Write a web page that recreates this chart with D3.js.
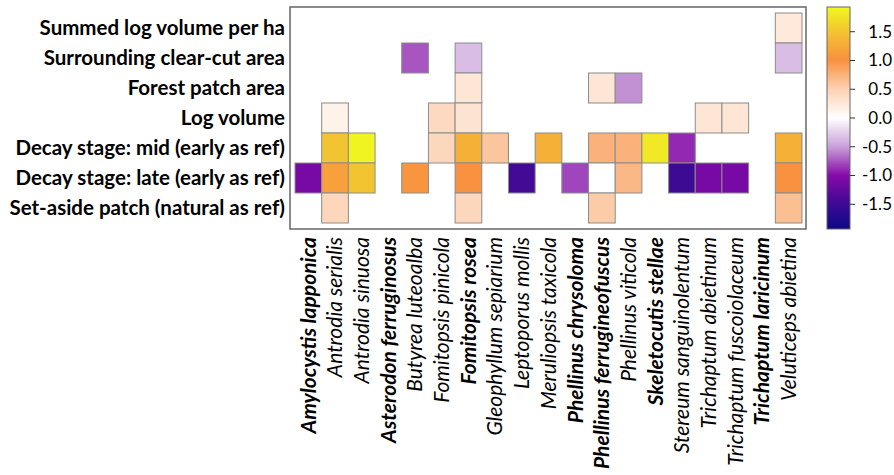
<!DOCTYPE html>
<meta charset="utf-8">
<html>
<head>
    <title>Heatmap</title>
    <style>
        body { margin: 0; background: white; }
        svg text { font-family: Lato, "Open Sans", sans-serif; fill: black; }
    </style>
    <script src="https://d3js.org/d3.v7.min.js"></script>
</head>
<body>
    <div id="chart"></div>
    <script>
        // species on the x axis (bold ones flagged separately)
        const species = ["Amylocystis lapponica", "Antrodia serialis", "Antrodia sinuosa",
            "Asterodon ferruginosus", "Butyrea luteoalba", "Fomitopsis pinicola", "Fomitopsis rosea",
            "Gleophyllum sepiarium", "Leptoporus mollis", "Meruliopsis taxicola", "Phellinus chrysoloma",
            "Phellinus ferrugineofuscus", "Phellinus viticola", "Skeletocutis stellae",
            "Stereum sanguinolentum", "Trichaptum abietinum", "Trichaptum fuscoiolaceum",
            "Trichaptum laricinum", "Veluticeps abietina"];
        const boldSpecies = ["Amylocystis lapponica", "Asterodon ferruginosus", "Fomitopsis rosea",
            "Phellinus chrysoloma", "Phellinus ferrugineofuscus", "Skeletocutis stellae", "Trichaptum laricinum"];

        const variables = ["Summed log volume per ha", "Surrounding clear-cut area", "Forest patch area",
            "Log volume", "Decay stage: mid (early as ref)", "Decay stage: late (early as ref)",
            "Set-aside patch (natural as ref)"];

        // one array per variable, null = not drawn (same order as species)
        const summedVolume  = [null, null, null, null, null, null, null, null, null, null, null, null, null, null, null, null, null, null, 0.25];
        const clearCutArea  = [null, null, null, null, -0.75, null, -0.35, null, null, null, null, null, null, null, null, null, null, null, -0.35];
        const patchArea     = [null, null, null, null, null, null, 0.28, null, null, null, null, 0.28, -0.55, null, null, null, null, null, null];
        const logVolume     = [null, 0.15, null, null, null, 0.42, 0.3, null, null, null, null, null, null, null, null, 0.28, 0.28, null, null];
        const decayMid      = [null, 1.5, 1.9, null, null, 0.45, 1.3, 0.6, null, 1.3, null, 0.75, 0.75, 1.8, -0.9, null, null, null, 1.3];
        const decayLate     = [-1.1, 1.15, 1.5, null, 1.05, null, 1.0, null, -1.45, null, -0.8, 0.0, 0.7, null, -1.5, -1.1, -1.1, null, 1.0];
        const setAside      = [null, 0.45, null, null, null, null, 0.45, null, null, null, null, 0.55, null, null, null, null, null, null, 0.65];

        const colorbarTicks = [-1.5, -1.0, -0.5, 0.0, 0.5, 1.0, 1.5];

        const rowsData = [summedVolume, clearCutArea, patchArea, logVolume, decayMid, decayLate, setAside];
        const cells = [];
        rowsData.forEach((row, r) => row.forEach((v, c) => {
            if (v !== null) cells.push({ variable: variables[r], species: species[c], value: v });
        }));

        const width = 894, height = 475;
        const svg = d3.select("#chart").append("svg")
            .attr("width", width)
            .attr("height", height);

        const x = d3.scaleBand().domain(species).range([295, 802]);
        const y = d3.scaleBand().domain(variables).range([13, 223]);

        const vmin = -1.93, vmax = 1.93;
        const color = d3.scaleLinear()
            .domain([vmin, -1.5, -1.0, -0.5, 0, 0.5, 1.0, 1.5, vmax])
            .range(["#0d0887", "#3c0a93", "#860aa8", "#c8a0d9", "#ffffff", "#fcd2b4", "#f89140", "#f3c431", "#f0f921"])
            .interpolate(d3.interpolateRgb);

        // frame
        svg.append("rect")
            .attr("x", 290).attr("y", 7)
            .attr("width", 516).attr("height", 222)
            .attr("fill", "none")
            .attr("stroke", "#666")
            .attr("stroke-width", 1.5);

        svg.append("g")
            .selectAll("rect")
            .data(cells)
            .enter().append("rect")
            .attr("x", d => x(d.species))
            .attr("y", d => y(d.variable))
            .attr("width", x.bandwidth())
            .attr("height", y.bandwidth())
            .attr("fill", d => color(d.value))
            .attr("stroke", "#8c8c8c")
            .attr("stroke-width", 1);

        // row labels
        svg.append("g")
            .selectAll("text")
            .data(variables)
            .enter().append("text")
            .attr("x", 285)
            .attr("y", d => y(d) + y.bandwidth() / 2)
            .attr("dy", "0.35em")
            .attr("text-anchor", "end")
            .style("font-size", "20.5px")
            .style("font-weight", "bold")
            .text(d => d);

        // column labels, rotated
        svg.append("g")
            .selectAll("text")
            .data(species)
            .enter().append("text")
            .attr("transform", d => "translate(" + (x(d) + x.bandwidth() / 2) + ",237) rotate(-90)")
            .attr("dy", "0.35em")
            .attr("text-anchor", "end")
            .style("font-size", "21px")
            .style("font-style", "italic")
            .style("font-weight", d => boldSpecies.includes(d) ? "bold" : "normal")
            .text(d => d);

        // colorbar
        const cbX = 827, cbW = 23, cbTop = 7, cbBottom = 229;
        const cy = d3.scaleLinear().domain([vmin, vmax]).range([cbBottom, cbTop]);
        const defs = svg.append("defs");
        const grad = defs.append("linearGradient")
            .attr("id", "cbgrad")
            .attr("x1", "0%").attr("y1", "100%")
            .attr("x2", "0%").attr("y2", "0%");
        d3.range(0, 1.0001, 0.02).forEach(t => {
            grad.append("stop")
                .attr("offset", (t * 100) + "%")
                .attr("stop-color", color(vmin + t * (vmax - vmin)));
        });
        svg.append("rect")
            .attr("x", cbX).attr("y", cbTop)
            .attr("width", cbW).attr("height", cbBottom - cbTop)
            .attr("fill", "url(#cbgrad)")
            .attr("stroke", "#666")
            .attr("stroke-width", 1);

        const cbAxis = svg.append("g");
        cbAxis.selectAll("line")
            .data(colorbarTicks)
            .enter().append("line")
            .attr("x1", cbX + cbW).attr("x2", cbX + cbW + 5)
            .attr("y1", d => cy(d)).attr("y2", d => cy(d))
            .attr("stroke", "#333");
        cbAxis.selectAll("text")
            .data(colorbarTicks)
            .enter().append("text")
            .attr("x", 892)
            .attr("y", d => cy(d))
            .attr("dy", "0.35em")
            .attr("text-anchor", "end")
            .style("font-size", "17px")
            .text(d => d.toFixed(1));
    </script>
</body>
</html>
